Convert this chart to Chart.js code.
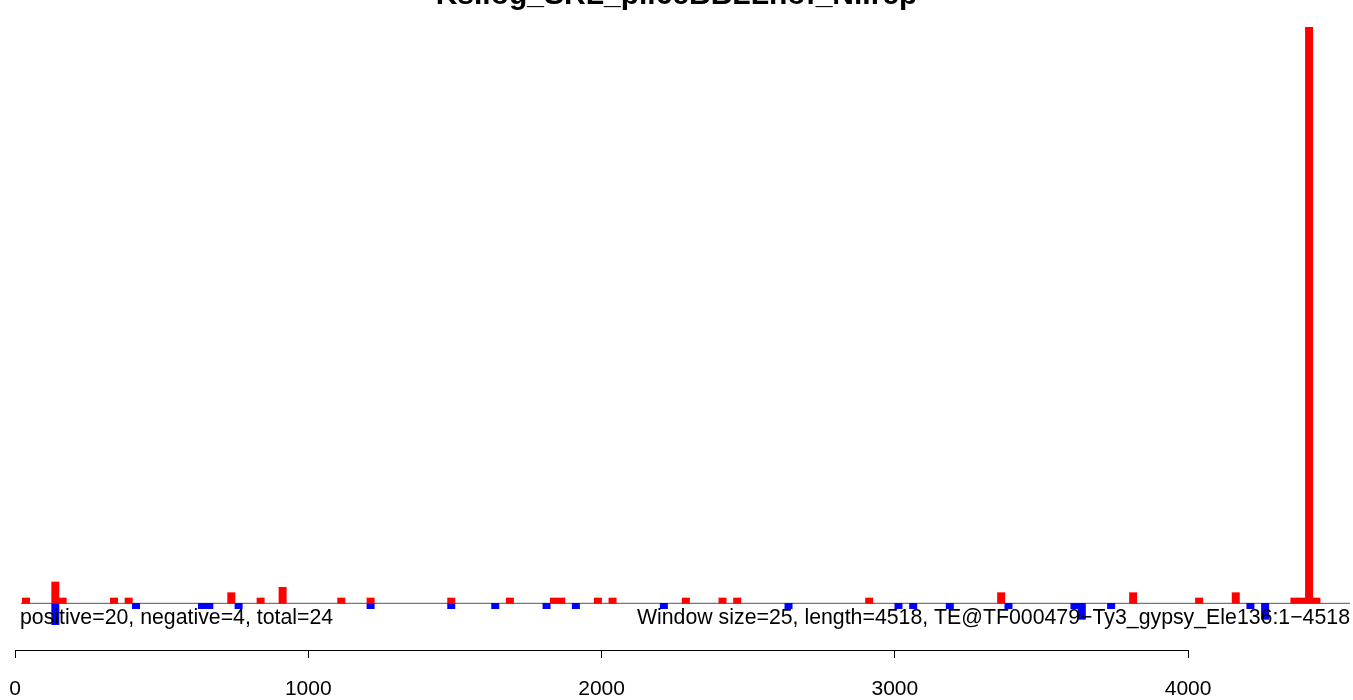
<!DOCTYPE html>
<html>
<head>
<meta charset="utf-8">
<script src="https://cdn.jsdelivr.net/npm/chart.js@4"></script>
<style>
  body { margin: 0; background: #fff; }
</style>
</head>
<body>
<canvas id="grafico" width="1353" height="700"></canvas>
<script>
const titulo = 'Ks.log_SRL_pil6eBBLLnof_Ni.rep';
const textoEsq = 'positive=20, negative=4, total=24';
const textoDir = 'Window size=25, length=4518, TE@TF000479\u2212Ty3_gypsy_Ele136:1\u22124518';

const janela = 25;
const xTicks = [0, 1000, 2000, 3000, 4000];

// inicio de cada janela com contagem positiva / negativa
const posInicio = [25, 125, 150, 325, 375, 725, 825, 900, 1100, 1200, 1475, 1675, 1825, 1850,
  1975, 2025, 2275, 2400, 2450, 2900, 3350, 3800, 4025, 4150, 4350, 4375, 4400, 4425];
const posValor = [1, 4, 1, 1, 1, 2, 1, 3, 1, 1, 1, 1, 1, 1,
  1, 1, 1, 1, 1, 1, 2, 2, 1, 2, 1, 1, 108, 1];

const negInicio = [125, 400, 625, 650, 750, 1200, 1475, 1625, 1800, 1900, 2200, 2625, 3000, 3050,
  3175, 3375, 3600, 3625, 3725, 4200, 4250];
const negValor = [-4, -1, -1, -1, -1, -1, -1, -1, -1, -1, -1, -1, -1, -1,
  -1, -1, -1, -3, -1, -1, -3];

const fonte = "'Liberation Sans', Arial, sans-serif";

const pontos = (inicios, valores) => inicios.map((x, i) => ({ x: x + janela / 2, y: valores[i] }));

const extras = {
  id: 'extras',
  beforeDatasetsDraw(chart) {
    const ctx = chart.ctx;
    const x = chart.scales.x, y = chart.scales.y;
    const y0 = y.getPixelForValue(0);
    ctx.save();
    ctx.strokeStyle = '#555555';
    ctx.lineWidth = 1;
    ctx.beginPath();
    ctx.moveTo(x.getPixelForValue(20), y0);
    ctx.lineTo(chart.chartArea.right, y0);
    ctx.stroke();
    ctx.restore();
  },
  afterDraw(chart) {
    const ctx = chart.ctx;
    const x = chart.scales.x;
    ctx.save();
    ctx.strokeStyle = '#000';
    ctx.lineWidth = 1;
    ctx.beginPath();
    ctx.moveTo(x.getPixelForValue(xTicks[0]), x.top + 0.5);
    ctx.lineTo(x.getPixelForValue(xTicks[xTicks.length - 1]), x.top + 0.5);
    ctx.stroke();

    ctx.fillStyle = '#000';
    ctx.textBaseline = 'alphabetic';
    ctx.font = 'bold 30px ' + fonte;
    ctx.textAlign = 'center';
    ctx.fillText(titulo, chart.width / 2, 4);

    ctx.font = '21.3px ' + fonte;
    ctx.textAlign = 'left';
    ctx.fillText(textoEsq, 20, 624);
    ctx.textAlign = 'right';
    ctx.fillText(textoDir, 1350, 624);
    ctx.restore();
  }
};

new Chart(document.getElementById('grafico').getContext('2d'), {
  type: 'bar',
  data: {
    datasets: [
      { data: pontos(posInicio, posValor), backgroundColor: '#ff0000', borderWidth: 0, grouped: false,
        barPercentage: 1, categoryPercentage: 1 },
      { data: pontos(negInicio, negValor), backgroundColor: '#0000ff', borderWidth: 0, grouped: false,
        barPercentage: 1, categoryPercentage: 1 }
    ]
  },
  options: {
    responsive: false,
    animation: false,
    layout: { padding: { left: 15, right: 3, top: 0, bottom: 0 } },
    plugins: { legend: { display: false }, tooltip: { enabled: false } },
    scales: {
      x: {
        type: 'linear',
        offset: false,
        min: 0,
        max: 4552,
        afterBuildTicks: s => { s.ticks = xTicks.map(v => ({ value: v })); },
        afterFit: s => { s.height = 50; s.paddingLeft = 0; s.paddingRight = 0; },
        border: { display: false },
        grid: { drawOnChartArea: false, drawTicks: true, tickLength: 8, color: '#000', offset: false },
        ticks: { color: '#000', padding: 19, maxRotation: 0, autoSkip: false,
          callback: v => String(v),
          font: { family: fonte, size: 21 } }
      },
      y: {
        display: false,
        min: -8.75,
        max: 113.125
      }
    }
  },
  plugins: [extras]
});
</script>
</body>
</html>
